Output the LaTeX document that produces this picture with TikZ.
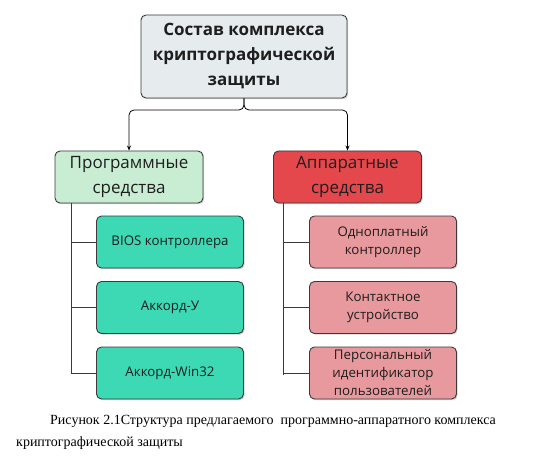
\documentclass[tikz,border=0pt]{standalone}
\usepackage{fontspec}
\setmainfont{Liberation Serif}
\newfontfamily\boxfont{Open Sans}
\usetikzlibrary{arrows.meta,shadows}
\definecolor{topfill}{HTML}{E6EBEE}
\definecolor{progfill}{HTML}{C9EDD3}
\definecolor{appfill}{HTML}{E5484C}
\definecolor{tealfill}{HTML}{3DD8B4}
\definecolor{pinkfill}{HTML}{E8999D}
\definecolor{edge}{HTML}{3A3A3A}
\definecolor{txt}{HTML}{1E1E1E}
\tikzset{
  basebox/.style={draw=edge, line width=0.9pt, rounded corners=5pt, align=center,
    text=txt, inner sep=0pt, drop shadow={shadow xshift=1.2pt, shadow yshift=-1.2pt, opacity=0.35}},
  topbox/.style={basebox, fill=topfill, minimum width=206pt, minimum height=83pt,
    font=\boxfont\bfseries\fontsize{17}{25}\selectfont},
  catbox/.style={basebox, minimum width=148pt, minimum height=52pt,
    font=\boxfont\fontsize{17}{25}\selectfont},
  leafbox/.style={basebox, minimum width=147pt, minimum height=52pt,
    font=\boxfont\fontsize{13.3}{18}\selectfont},
  link/.style={draw=black, line width=0.8pt},
  branch/.style={draw=edge, line width=1pt},
  arr/.style={-{Stealth[length=5pt,width=4pt]}}
}
\begin{document}
\begin{tikzpicture}[x=1pt,y=-1pt]
\useasboundingbox[fill=white] (0,0) rectangle (539,460);
% boxes
\node[topbox] (top) at (244,56.5) {Состав комплекса\\криптографической\\защиты};
\node[catbox, fill=progfill] (prog) at (129,177) {Программные\\средства};
\node[catbox, fill=appfill] (app) at (347.5,177) {Аппаратные\\средства};
\node[leafbox, fill=tealfill] (p1) at (170,242) {BIOS контроллера};
\node[leafbox, fill=tealfill] (p2) at (170,307.5) {Аккорд-У};
\node[leafbox, fill=tealfill] (p3) at (170,373) {Аккорд-Win32};
\node[leafbox, fill=pinkfill] (a1) at (383,242) {Одноплатный\\контроллер};
\node[leafbox, fill=pinkfill] (a2) at (383,307.5) {Контактное\\устройство};
\node[leafbox, fill=pinkfill] (a3) at (383,373) {Персональный\\идентификатор\\пользователей};
% connectors
\coordinate (split) at (244,110);
\draw[link, arr, rounded corners=5pt] (top.south) |- (prog.north |- split) -- (prog.north);
\draw[link, arr, rounded corners=5pt] (top.south) |- (app.north |- split) -- (app.north);
\coordinate (lt) at (71,203);
\coordinate (rt) at (283,203);
\draw[branch] (lt) |- (p3.west);
\draw[branch] (lt |- p1.west) -- (p1.west);
\draw[branch] (lt |- p2.west) -- (p2.west);
\draw[branch] (rt) -- (rt |- 0,375);
\draw[branch] (rt |- a1.west) -- (a1.west);
\draw[branch] (rt |- a2.west) -- (a2.west);
\draw[branch] (rt |- a3.west) -- (a3.west);
% caption
\node[anchor=west, inner sep=0pt, font=\fontsize{14}{14}\selectfont] (cap1) at (50,421) {Рисунок 2.1Структура предлагаемого\ \ программно-аппаратного комплекса};
\node[anchor=west, inner sep=0pt, font=\fontsize{14}{14}\selectfont] (cap2) at (16,443) {криптографической защиты};
\end{tikzpicture}
\end{document}
